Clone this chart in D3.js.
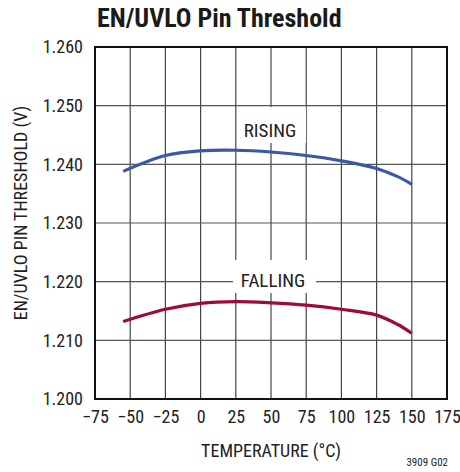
<!DOCTYPE html>
<html>
<head>
  <meta charset="utf-8">
  <title>EN/UVLO Pin Threshold</title>
  <script src="https://d3js.org/d3.v7.min.js"></script>
  <style>
    body { margin: 0; background: #fff; }
    text { font-family: "Liberation Sans Narrow", "Roboto Condensed", "Liberation Sans", sans-serif; fill: #222; }
  </style>
</head>
<body>
<svg width="460" height="472"></svg>
<script>
// temperature (°C) and threshold (V)
var temps   = [-55, -25, 0, 25, 50, 75, 100, 125, 140, 150]
var rising  = [1.2388, 1.2415, 1.2423, 1.2424, 1.2421, 1.2415, 1.2406, 1.2393, 1.2379, 1.2366]
var falling = [1.2132, 1.2153, 1.2163, 1.2166, 1.2164, 1.2160, 1.2153, 1.2143, 1.2127, 1.2112]
var xTicks = [-75, -50, -25, 0, 25, 50, 75, 100, 125, 150, 175]
var yTicks = [1.200, 1.210, 1.220, 1.230, 1.240, 1.250, 1.260]

var svg = d3.select('svg')
var plotL = 95, plotR = 447, plotT = 47, plotB = 399

var x = d3.scaleLinear().domain([-75, 175]).range([plotL, plotR])
var y = d3.scaleLinear().domain([1.2, 1.26]).range([plotB, plotT])

// title
svg.append('text')
  .attr('x', 97).attr('y', 27)
  .attr('font-size', 26).attr('font-weight', 'bold')
  .style('fill', '#1a1a1a')
  .text('EN/UVLO Pin Threshold')

// grid
var grid = svg.append('g')
grid.selectAll('line.v')
  .data(xTicks.slice(1, -1))
  .enter().append('line')
    .attr('x1', function (d) { return x(d) }).attr('x2', function (d) { return x(d) })
    .attr('y1', plotT).attr('y2', plotB)
    .attr('stroke', '#444').attr('stroke-width', 1.2)
grid.selectAll('line.h')
  .data(yTicks.slice(1, -1))
  .enter().append('line')
    .attr('y1', function (d) { return y(d) }).attr('y2', function (d) { return y(d) })
    .attr('x1', plotL).attr('x2', plotR)
    .attr('stroke', '#555').attr('stroke-width', 1.2)

// axes, labels only
svg.append('g')
  .attr('transform', 'translate(0,' + plotB + ')')
  .call(d3.axisBottom(x).tickValues(xTicks).tickSize(0).tickPadding(11).tickFormat(d3.format('d')))
svg.append('g')
  .attr('transform', 'translate(' + plotL + ',0)')
  .call(d3.axisLeft(y).tickValues(yTicks).tickSize(0).tickPadding(12).tickFormat(d3.format('.3f')))
svg.selectAll('.domain').remove()
svg.selectAll('.tick text').attr('font-size', 18).attr('fill', '#222')
svg.selectAll('g[font-family]').attr('font-family', null)

// curves
var line = d3.line()
  .x(function (d) { return x(d[0]) })
  .y(function (d) { return y(d[1]) })
  .curve(d3.curveCatmullRom.alpha(0.5))

// label boxes knock out the grid
svg.append('rect').attr('x', 237).attr('y', 107).attr('width', 69).attr('height', 36).attr('fill', '#fff')
svg.append('rect').attr('x', 233).attr('y', 260).attr('width', 83).attr('height', 33).attr('fill', '#fff')

svg.append('path')
  .datum(d3.zip(temps, rising))
  .attr('d', line)
  .attr('fill', 'none').attr('stroke', '#3a57a8').attr('stroke-width', 3.2)
svg.append('path')
  .datum(d3.zip(temps, falling))
  .attr('d', line)
  .attr('fill', 'none').attr('stroke', '#9c0c36').attr('stroke-width', 3.2)

svg.append('text').attr('x', 270).attr('y', 137).attr('text-anchor', 'middle')
  .attr('font-size', 19).text('RISING')
svg.append('text').attr('x', 273).attr('y', 287).attr('text-anchor', 'middle')
  .attr('font-size', 19).text('FALLING')

// frame
svg.append('rect')
  .attr('x', plotL).attr('y', plotT).attr('width', plotR - plotL).attr('height', plotB - plotT)
  .attr('fill', 'none').attr('stroke', '#111').attr('stroke-width', 2)

// axis titles
svg.append('text')
  .attr('x', (plotL + plotR) / 2).attr('y', 457).attr('text-anchor', 'middle')
  .attr('font-size', 18).text('TEMPERATURE (°C)')
svg.append('text')
  .attr('transform', 'translate(27,213) rotate(-90)').attr('text-anchor', 'middle')
  .attr('font-size', 18).text('EN/UVLO PIN THRESHOLD (V)')
svg.append('text')
  .attr('x', 448).attr('y', 466).attr('text-anchor', 'end')
  .attr('font-size', 11).text('3909 G02')
</script>
</body>
</html>
